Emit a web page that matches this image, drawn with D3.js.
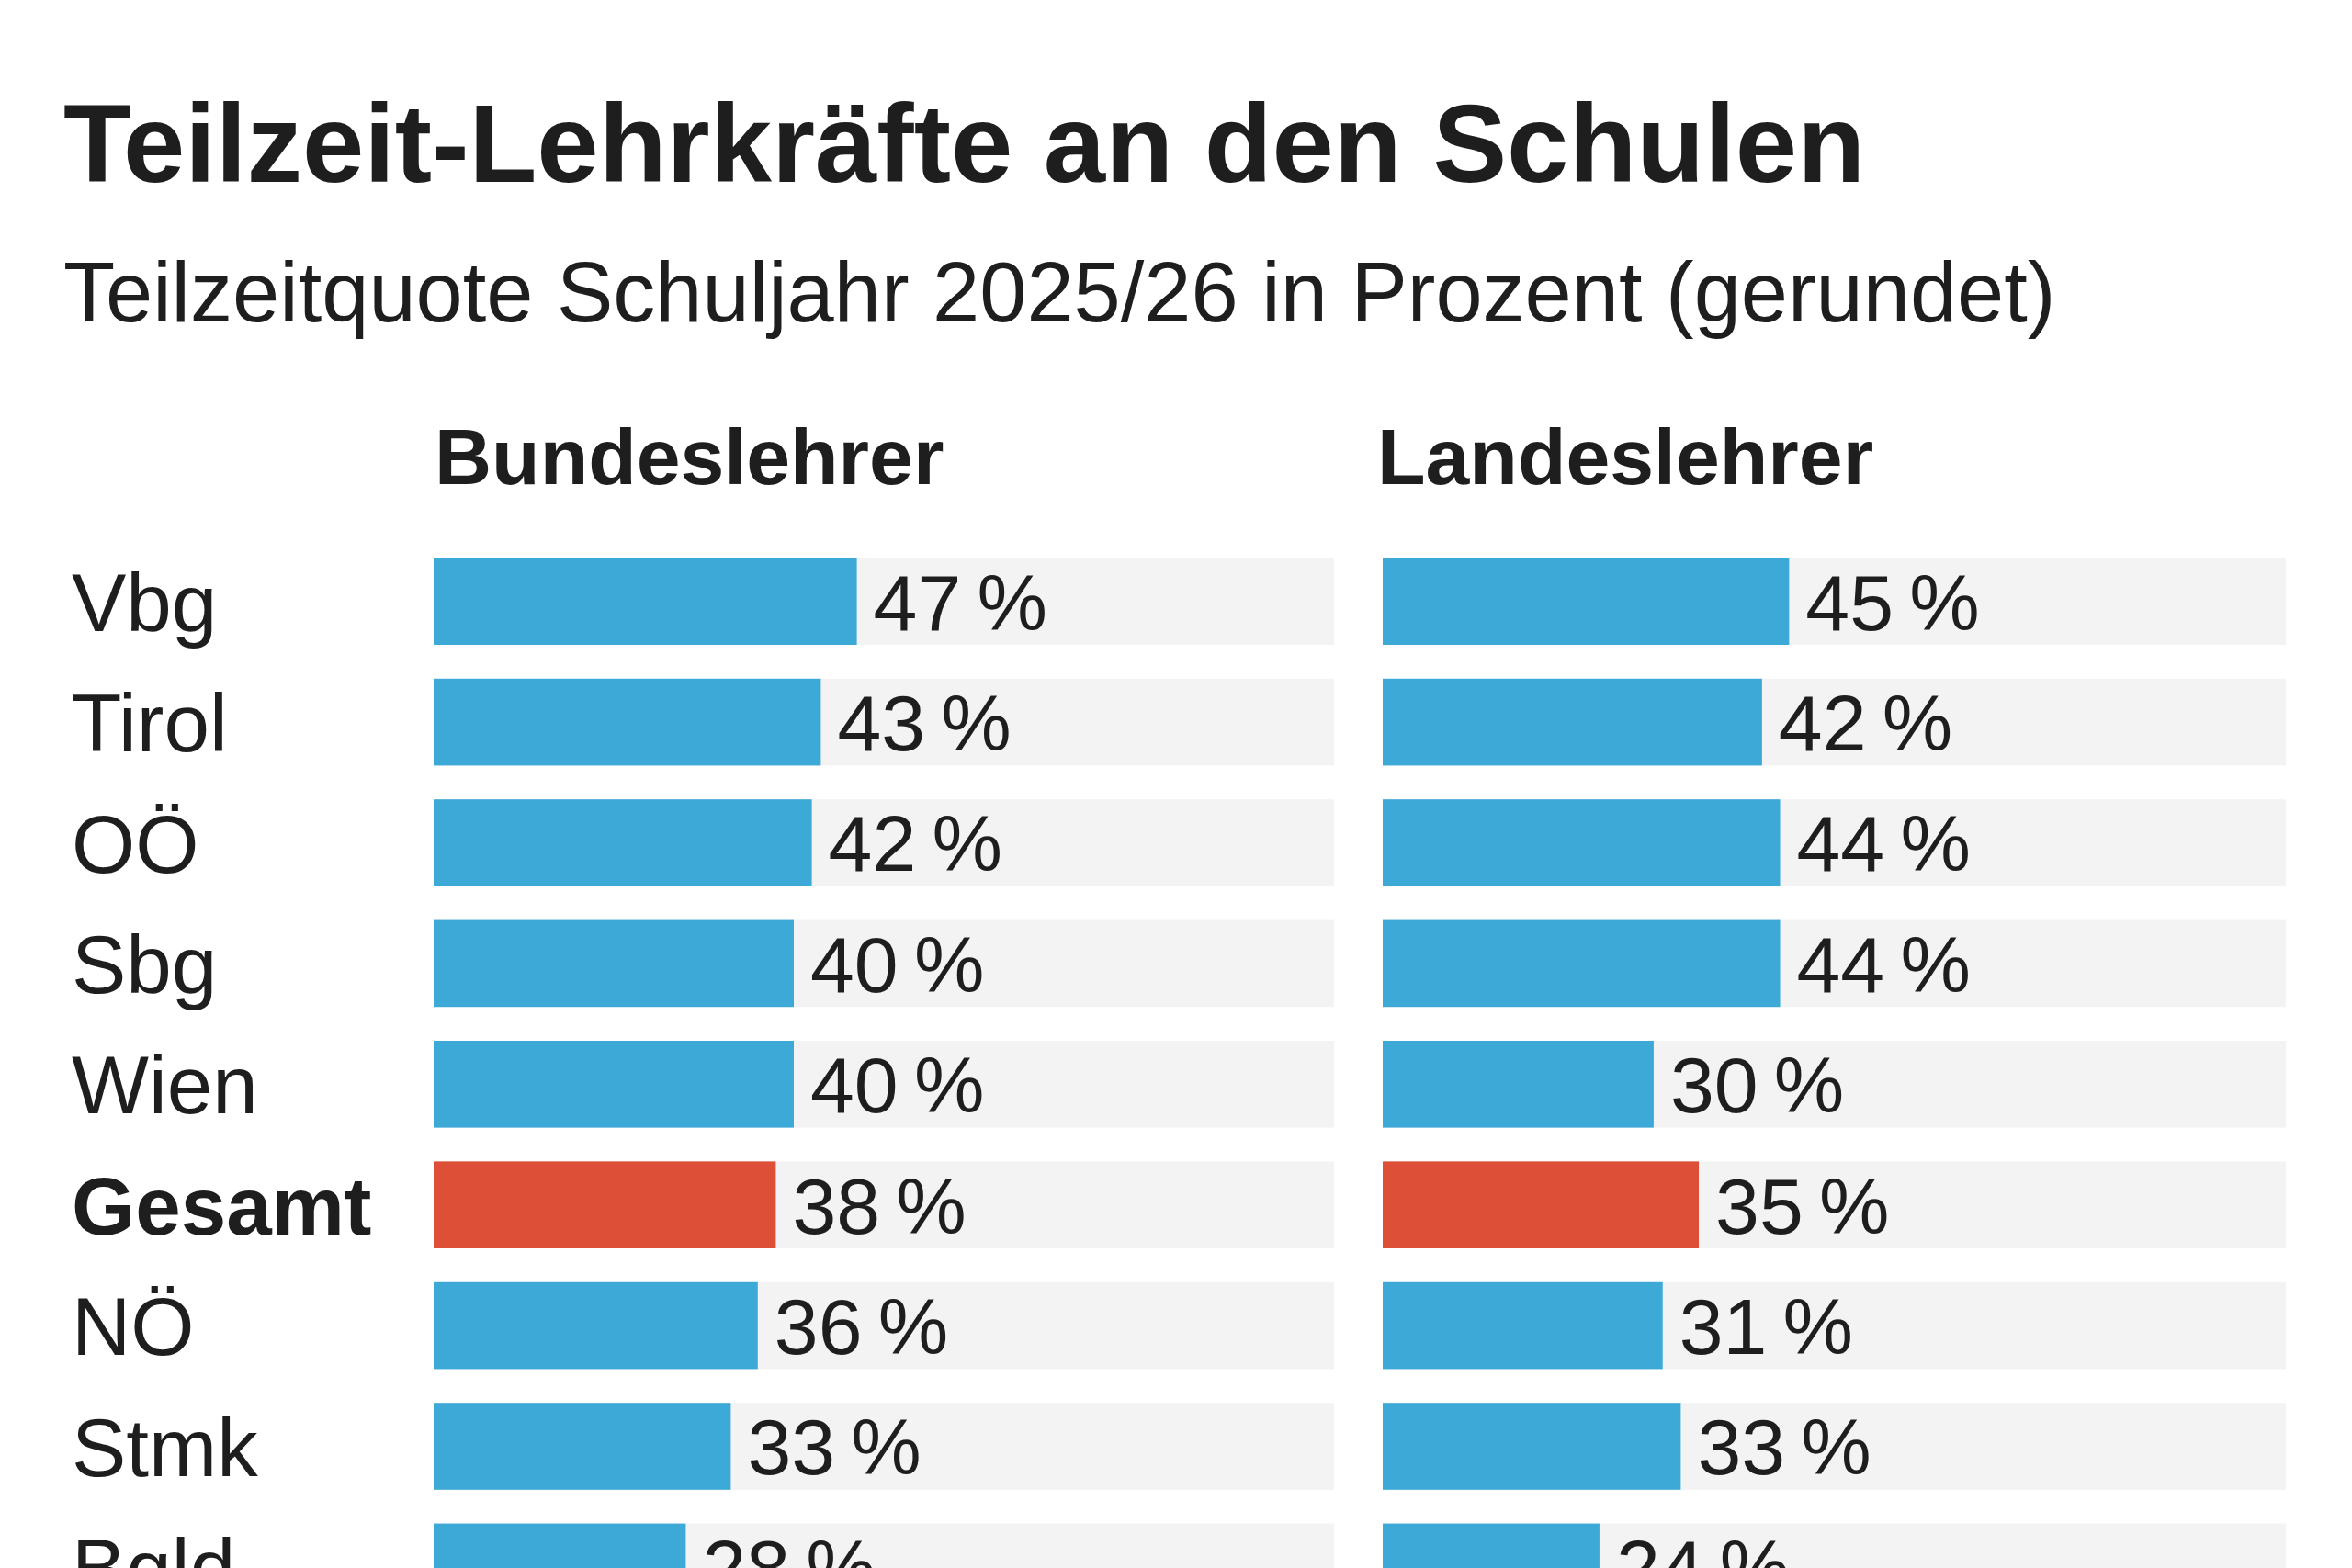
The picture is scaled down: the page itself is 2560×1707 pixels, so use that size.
<!DOCTYPE html>
<html><head><meta charset="utf-8">
<script src="https://cdn.jsdelivr.net/npm/d3@7"></script>
<style>body{margin:0;background:#fff}svg{display:block}</style>
</head><body>
<script>
const regions = ["Vbg","Tirol","OÖ","Sbg","Wien","Gesamt","NÖ","Stmk","Bgld"];
const bundes = [47,43,42,40,40,38,36,33,28];
const landes = [45,42,44,44,30,35,31,33,24];
const headers = ["Bundeslehrer","Landeslehrer"];

const W=2560,H=1707;
const svg=d3.select("body").append("svg").attr("width",W).attr("height",H)
  .style("font-family","'Liberation Sans',Arial,sans-serif");
svg.append("text").attr("x",69).attr("y",198).attr("font-size",121).attr("font-weight","bold").attr("fill","#1e1e1e").text("Teilzeit-Lehrkräfte an den Schulen");
svg.append("text").attr("x",69).attr("y",350).attr("font-size",92).attr("fill","#1e1e1e").text("Teilzeitquote Schuljahr 2025/26 in Prozent (gerundet)");

const y=d3.scaleBand().domain(regions).range([589,589+131.4*regions.length]).paddingInner(0.28).paddingOuter(0.14);
const panels=[{x0:472,x1:1452,data:bundes,h:headers[0],hx:473},{x0:1505,x1:2488,data:landes,h:headers[1],hx:1499}];

svg.selectAll(".rl").data(regions).join("text")
  .attr("x",78).attr("y",d=>y(d)+y.bandwidth()/2).attr("dy","0.36em")
  .attr("font-size",89).attr("font-weight",d=>d==="Gesamt"?"bold":"normal").attr("fill","#1e1e1e").text(d=>d);

panels.forEach(p=>{
  const x=d3.scaleLinear().domain([0,100]).range([p.x0,p.x1]);
  const g=svg.append("g");
  g.append("text").attr("x",p.hx).attr("y",527).attr("font-size",86).attr("font-weight","bold").attr("fill","#1e1e1e").text(p.h);
  g.selectAll(".bg").data(regions).join("rect").attr("x",x(0)).attr("y",d=>y(d)).attr("width",x(100)-x(0)).attr("height",y.bandwidth()).attr("fill","#f3f3f3");
  g.selectAll(".b").data(regions).join("rect").attr("x",x(0)).attr("y",d=>y(d)).attr("width",(d,i)=>x(p.data[i])-x(0)).attr("height",y.bandwidth())
    .attr("fill",d=>d==="Gesamt"?"#de4f37":"#3ca9d7");
  g.selectAll(".v").data(regions).join("text").attr("x",(d,i)=>x(p.data[i])+18).attr("y",d=>y(d)+y.bandwidth()/2).attr("dy","0.36em")
    .attr("font-size",86).attr("fill","#1e1e1e").text((d,i)=>p.data[i]+"\u2009%");
});
</script>
</body></html>
